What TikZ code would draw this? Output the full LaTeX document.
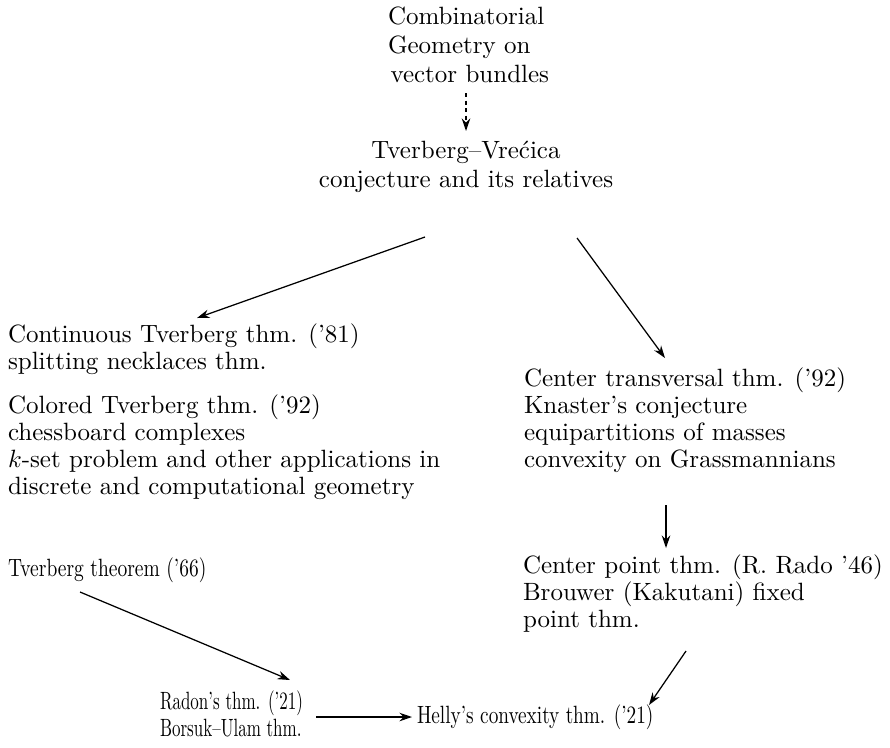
\documentclass[tikz,border=0pt]{standalone}
\usepackage{graphicx}
\usetikzlibrary{arrows.meta}
\newcommand\sqz[2]{\scalebox{#1}[1]{#2}}
\tikzset{
  txt/.style={inner sep=0pt, outer sep=0pt, align=left, anchor=base west, font=\fontsize{10}{10.8}\selectfont},
  wide/.style={font=\fontsize{10}{11.6}\selectfont},
  ctxt/.style={txt, align=center, anchor=base},
  conn/.style={line width=0.5pt, -{Stealth[length=5pt,width=3.4pt]}},
  dconn/.style={conn, dash pattern=on 1.6pt off 1.4pt}
}
\begin{document}
\begin{tikzpicture}[x=0.4pt,y=-0.4pt]
\useasboundingbox (0,0) rectangle (890,747);
% nodes (anchored at the baseline of their last line)
\node[txt,wide] (cg) at (388,82) {Combinatorial\\Geometry on\\\hspace{1pt}vector bundles};
\node[ctxt,wide] (tv) at (466,187) {Tverberg–Vre\'cica\\conjecture and its relatives};
\node[txt] (ct) at (8,369) {Continuous Tverberg thm. (’81)\\splitting necklaces thm.};
\node[txt] (col) at (8,494) {Colored Tverberg thm. (’92)\\chessboard complexes\\$k$-set problem and other applications in\\discrete and computational geometry};
\node[txt] (ctr) at (524,467) {Center transversal thm. (’92)\\Knaster’s conjecture\\equipartitions of masses\\convexity on Grassmannians};
\node[txt] (cp) at (523,627) {Center point thm. (R. Rado ’46)\\Brouwer (Kakutani) fixed\\point thm.};
\node[txt] (tt) at (8,576) {\sqz{0.78}{Tverberg theorem (’66)}};
\node[txt] (rad) at (160,736) {\sqz{0.68}{Radon’s thm. (’21)}\\\sqz{0.68}{Borsuk–Ulam thm.}};
\node[txt] (hel) at (417,723) {\sqz{0.77}{Helly’s convexity thm. (’21)}};
% connector end points
\coordinate (cgS) at (466,93);
\coordinate (tvS) at (466,131);
\coordinate (tvL) at (425,237);
\coordinate (ctN) at (197,318);
\coordinate (tvR) at (577,238);
\coordinate (ctrN) at (665,358);
\coordinate (ctrS) at (666,505);
\coordinate (cpN) at (666,548);
\coordinate (ttS) at (80,592);
\coordinate (radN) at (290,680);
\coordinate (radE) at (316,717);
\coordinate (helW) at (412,717);
\coordinate (cpS) at (686,651);
\coordinate (helN) at (649,705);
% connectors
\draw[dconn] (cgS) -- (tvS);
\draw[conn] (tvL) -- (ctN);
\draw[conn] (tvR) -- (ctrN);
\draw[conn] (ctrS) -- (cpN);
\draw[conn] (ttS) -- (radN);
\draw[conn] (radE) -- (helW);
\draw[conn] (cpS) -- (helN);
\end{tikzpicture}
\end{document}
